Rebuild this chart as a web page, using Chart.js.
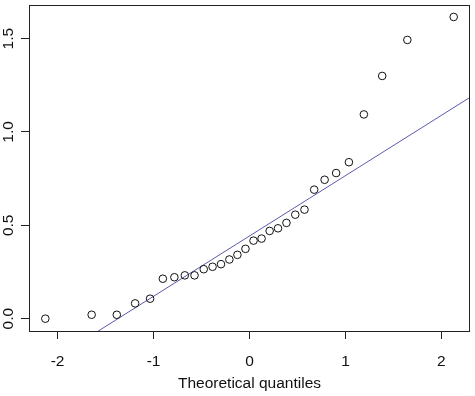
<!DOCTYPE html>
<html>
<head>
<meta charset="utf-8">
<script src="https://cdn.jsdelivr.net/npm/chart.js@4/dist/chart.umd.min.js"></script>
<style>
html, body { margin: 0; padding: 0; background: #fff; }
</style>
</head>
<body>
<canvas id="qqChart" width="475" height="396"></canvas>
<script>
// normal theoretical quantiles for n = 30
const theoretical = [-2.128, -1.645, -1.383, -1.192, -1.036, -0.903, -0.783, -0.674, -0.573, -0.477,
                     -0.385, -0.297, -0.210, -0.126, -0.042, 0.042, 0.126, 0.210, 0.297, 0.385,
                     0.477, 0.573, 0.674, 0.783, 0.903, 1.036, 1.192, 1.383, 1.645, 2.128];
// sorted sample values
const sample = [0.000, 0.021, 0.021, 0.082, 0.107, 0.214, 0.222, 0.232, 0.232, 0.265,
                0.278, 0.292, 0.317, 0.342, 0.374, 0.418, 0.429, 0.470, 0.484, 0.513,
                0.557, 0.584, 0.691, 0.744, 0.780, 0.838, 1.094, 1.300, 1.493, 1.616];
// reference line (qqline) end points
const lineX = [-2.3, 2.3];
const lineY = [-0.300, 1.186];
const xTicks = [-2, -1, 0, 1, 2];
const yTicks = [0, 0.5, 1.0, 1.5];
const xTitle = 'Theoretical quantiles';

const font = { family: '"Liberation Sans", Arial, sans-serif', size: 15.5 };

// box round the plot and vertical y labels, like base R
const frame = {
    id: 'frame',
    afterDraw(chart) {
        const { ctx, chartArea: a } = chart;
        const y = chart.scales.y;
        ctx.save();
        ctx.strokeStyle = '#222';
        ctx.lineWidth = 1;
        ctx.strokeRect(a.left + 0.5, a.top + 0.5, a.right - a.left - 1, a.bottom - a.top);
        ctx.fillStyle = '#111';
        ctx.font = font.size + 'px ' + font.family;
        ctx.textAlign = 'center';
        ctx.textBaseline = 'middle';
        y.ticks.forEach(t => {
            ctx.save();
            ctx.translate(9, y.getPixelForValue(t.value));
            ctx.rotate(-Math.PI / 2);
            ctx.fillText(t.value.toFixed(1), 0, 0);
            ctx.restore();
        });
        ctx.restore();
    }
};

const ctx = document.getElementById('qqChart').getContext('2d');
const qqChart = new Chart(ctx, {
    type: 'scatter',
    data: {
        datasets: [{
            data: theoretical.map((q, i) => ({ x: q, y: sample[i] })),
            pointStyle: 'circle',
            pointRadius: 3.8,
            borderColor: '#111',
            borderWidth: 1,
            backgroundColor: 'rgba(0,0,0,0)'
        }, {
            data: lineX.map((q, i) => ({ x: q, y: lineY[i] })),
            showLine: true,
            pointRadius: 0,
            borderColor: '#5a5aae',
            borderWidth: 1
        }]
    },
    options: {
        responsive: false,
        animation: false,
        devicePixelRatio: 1,
        layout: { padding: { top: 4, right: 4, left: 0, bottom: 0 } },
        plugins: { legend: { display: false }, tooltip: { enabled: false } },
        scales: {
            x: {
                type: 'linear',
                min: -2.298,
                max: 2.298,
                afterBuildTicks: s => { s.ticks = xTicks.map(v => ({ value: v })); },
                afterFit: s => { s.height = 65; },
                border: { display: false },
                grid: { drawOnChartArea: false, drawTicks: true, tickLength: 8, color: '#222' },
                ticks: { font: font, color: '#111', padding: 13, callback: v => String(v) },
                title: { display: true, text: xTitle, font: font, color: '#111', padding: { top: 0, bottom: 3 } }
            },
            y: {
                type: 'linear',
                min: -0.066,
                max: 1.680,
                afterBuildTicks: s => { s.ticks = yTicks.map(v => ({ value: v })); },
                afterFit: s => { s.width = 29; },
                border: { display: false },
                grid: { drawOnChartArea: false, drawTicks: true, tickLength: 8, color: '#222' },
                ticks: { display: false }
            }
        }
    },
    plugins: [frame]
});
</script>
</body>
</html>
